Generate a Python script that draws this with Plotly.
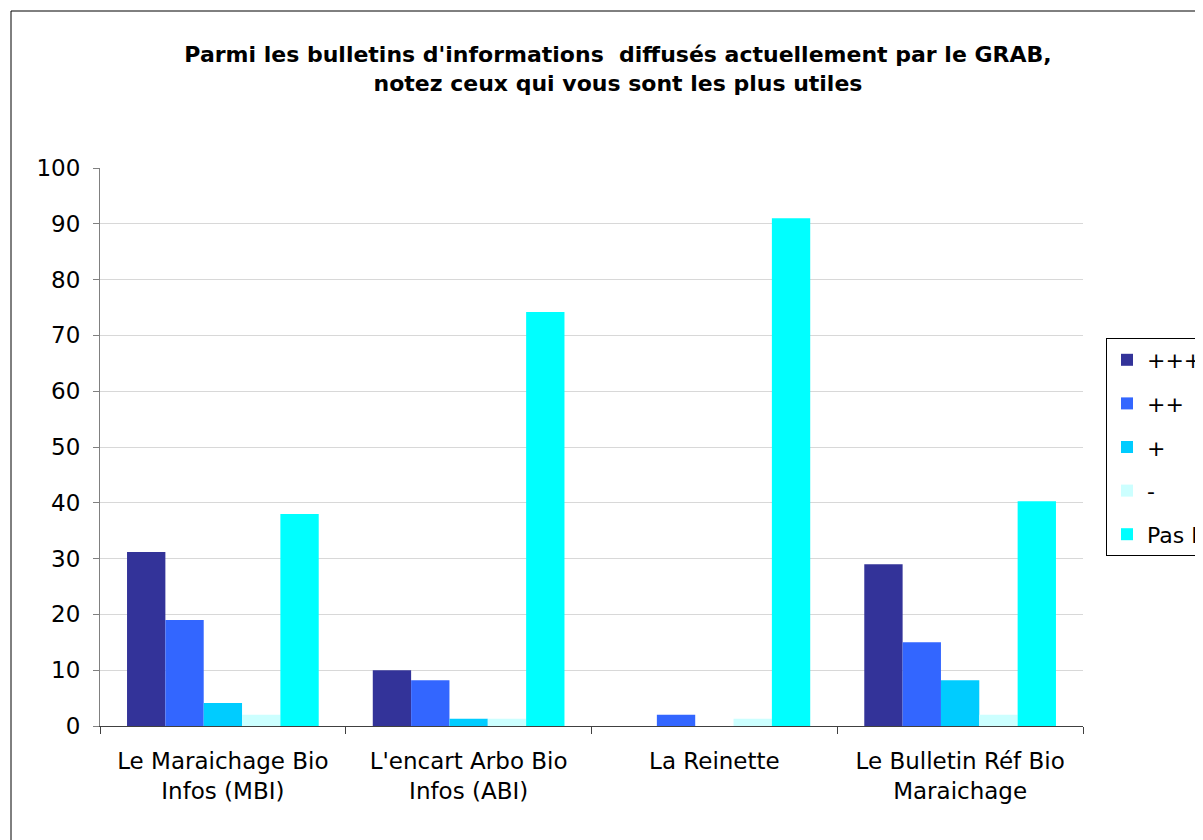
import plotly.graph_objects as go

categories = ["Le Maraichage Bio<br>Infos (MBI)", "L'encart Arbo Bio<br>Infos (ABI)", "La Reinette", "Le Bulletin Réf Bio<br>Maraichage"]
series_names = ["+++", "++", "+", "-", "Pas lu"]
v_ppp = [31.2, 10.0, 0.0, 29.0]
v_pp = [19.0, 8.2, 2.0, 15.0]
v_p = [4.1, 1.3, 0.0, 8.2]
v_m = [2.0, 1.3, 1.3, 2.0]
v_paslu = [38.0, 74.2, 91.0, 40.3]
colors = ["#333399", "#3366FF", "#00CCFF", "#CCFFFF", "#00FFFF"]
y_ticks = [0, 10, 20, 30, 40, 50, 60, 70, 80, 90, 100]

font = "DejaVu Sans"
fig = go.Figure()
for name, vals, c in zip(series_names, [v_ppp, v_pp, v_p, v_m, v_paslu], colors):
    fig.add_trace(go.Bar(name=name, x=categories, y=vals, legendgroup=name,
                         marker=dict(color=c, line=dict(width=0))))

fig.update_layout(
    width=1203, height=840,
    barmode="group", bargap=0.22, bargroupgap=0,
    paper_bgcolor="white", plot_bgcolor="white",
    margin=dict(l=92, r=128, t=160, b=122, autoexpand=False),
    font=dict(family=font, size=22, color="black"),
    title=dict(text="<b>Parmi les bulletins d'informations  diffusés actuellement par le GRAB,<br>notez ceux qui vous sont les plus utiles</b>",
               x=610/1203, xanchor="center", y=1-54/840, yanchor="middle",
               font=dict(family=font, size=22, color="black")),
    legend=dict(x=1.0234, xanchor="left", y=0.5, yanchor="middle",
                bordercolor="black", borderwidth=1, bgcolor="white",
                font=dict(family=font, size=22), itemwidth=30, tracegroupgap=12),
    showlegend=True,
)
fig.update_yaxes(range=[0, 100], tickvals=y_ticks, showgrid=True, gridcolor="#d8d8d8", gridwidth=1,
                 showline=True, linecolor="#808080", linewidth=1, ticks="outside", ticklen=6,
                 tickcolor="#808080", tickfont=dict(size=23), ticklabelstandoff=8)
fig.update_xaxes(showline=True, linecolor="#404040", linewidth=1, ticks="outside", tickson="boundaries",
                 ticklen=7, tickcolor="#404040", tickfont=dict(size=23), ticklabelstandoff=14)
fig.add_shape(type="rect", xref="paper", yref="paper", x0=-89/983, x1=1.3, y0=-0.3, y1=1+157/558,
              line=dict(color="black", width=1), fillcolor="rgba(0,0,0,0)", layer="below")
fig.write_html("out.html")
